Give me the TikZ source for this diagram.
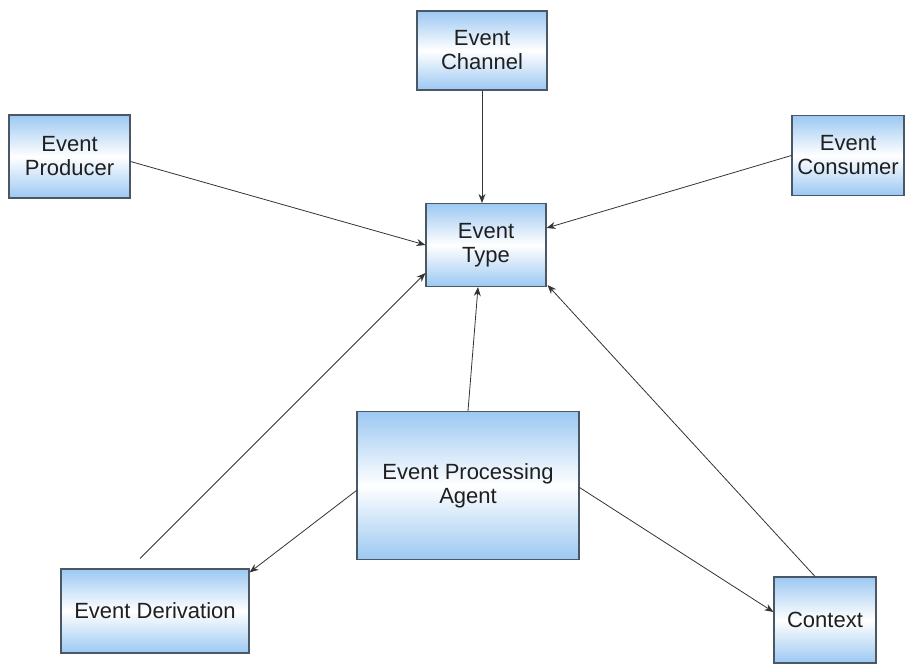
\documentclass[tikz,border=0pt]{standalone}
\usepackage{fontspec}
\setmainfont{Liberation Sans}
\usetikzlibrary{arrows.meta}
\definecolor{boxblue}{HTML}{9CC8F2}
\definecolor{boxedge}{HTML}{4A5866}
\definecolor{linkgray}{HTML}{333333}
\begin{document}
\begin{tikzpicture}[x=1pt,y=-1pt,
  entity/.style={draw=boxedge, line width=1.1pt, rectangle, align=center,
    top color=boxblue, bottom color=boxblue, middle color=white,
    font=\fontsize{22}{24}\selectfont, text=black!88, inner sep=0pt},
  link/.style={draw=linkgray, line width=0.8pt,
    -{Stealth[length=9pt,width=7pt]}}]
\useasboundingbox (0,0) rectangle (905,664);

\node[entity, minimum width=130pt, minimum height=79pt] (chan) at (482,50.5) {Event\\Channel};
\node[entity, minimum width=121pt, minimum height=83pt] (prod) at (69.5,156.5) {Event\\Producer};
\node[entity, minimum width=112pt, minimum height=80pt] (cons) at (848,155.5) {Event\\Consumer};
\node[entity, minimum width=120pt, minimum height=83pt] (type) at (486,245) {Event\\Type};
\node[entity, minimum width=222pt, minimum height=148pt] (epa) at (468,485.5) {Event Processing\\Agent};
\node[entity, minimum width=188pt, minimum height=84pt] (deriv) at (155,611) {Event Derivation};
\node[entity, minimum width=102pt, minimum height=86pt] (ctx) at (825,620) {Context};

\draw[link] (chan.south) -- (chan.south |- type.north);
\draw[link] ([yshift=-5pt]prod.east) -- (type.west);
\draw[link] (cons.west) -- ([yshift=17pt]type.east);
\draw[link] ([xshift=-15pt,yshift=10pt]deriv.north) -- ([yshift=-28pt]type.west);
\draw[link] (epa.north) -- ([xshift=-8pt]type.south);
\draw[link] ([xshift=-10pt]ctx.north) -- ([xshift=1pt,yshift=2pt]type.south east);
\draw[link] ([yshift=-5pt]epa.west) -- ([yshift=-4pt]deriv.north east);
\draw[link] ([yshift=-2pt]epa.east) -- ([yshift=8pt]ctx.west);
\end{tikzpicture}
\end{document}
